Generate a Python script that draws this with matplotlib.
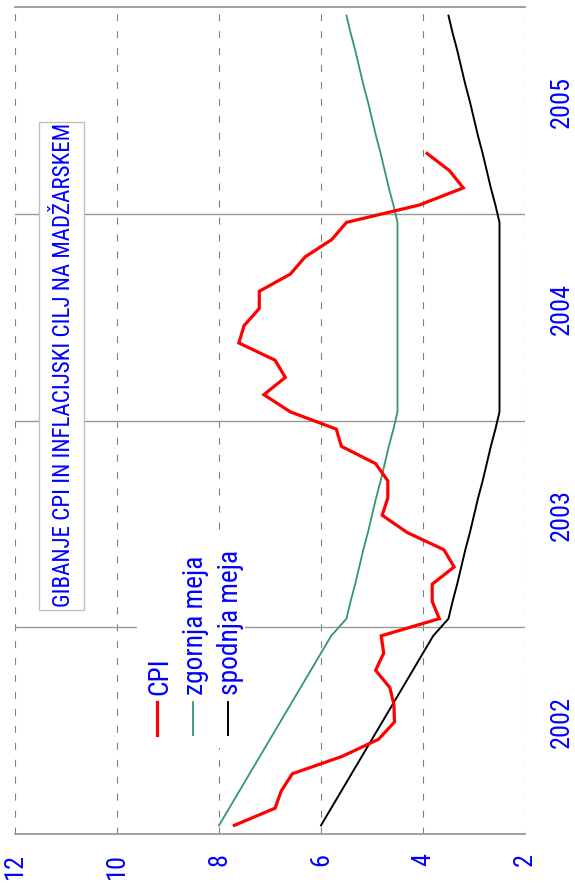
import matplotlib
matplotlib.use("Agg")
import matplotlib.pyplot as plt
from matplotlib.lines import Line2D
from matplotlib.patches import Rectangle

# monthly data, Jan 2002 onwards
cpi = [7.70, 6.90, 6.78, 6.56, 5.59, 4.87, 4.56, 4.57, 4.65, 4.93, 4.77, 4.82,
       3.68, 3.82, 3.82, 3.39, 3.59, 4.31, 4.80, 4.69, 4.69, 4.93, 5.60, 5.70,
       6.60, 7.12, 6.70, 6.90, 7.61, 7.51, 7.21, 7.21, 6.60, 6.31, 5.79, 5.50,
       4.08, 3.21, 3.48, 3.92]
zgornja = [8.0, 7.8, 7.6, 7.4, 7.2, 7.0, 6.8, 6.6, 6.4, 6.2, 6.0, 5.8,
           5.5, 5.42, 5.33, 5.25, 5.17, 5.08, 5.0, 4.92, 4.83, 4.75, 4.67, 4.58,
           4.5, 4.5, 4.5, 4.5, 4.5, 4.5, 4.5, 4.5, 4.5, 4.5, 4.5, 4.5,
           4.58, 4.67, 4.75, 4.83, 4.92, 5.0, 5.08, 5.17, 5.25, 5.33, 5.42, 5.5]
spodnja = [6.0, 5.8, 5.6, 5.4, 5.2, 5.0, 4.8, 4.6, 4.4, 4.2, 4.0, 3.8,
           3.5, 3.42, 3.33, 3.25, 3.17, 3.08, 3.0, 2.92, 2.83, 2.75, 2.67, 2.58,
           2.5, 2.5, 2.5, 2.5, 2.5, 2.5, 2.5, 2.5, 2.5, 2.5, 2.5, 2.5,
           2.58, 2.67, 2.75, 2.83, 2.92, 3.0, 3.08, 3.17, 3.25, 3.33, 3.42, 3.5]
years = ["2002", "2003", "2004", "2005"]
value_ticks = [12, 10, 8, 6, 4, 2]
naslov = "GIBANJE CPI IN INFLACIJSKI CILJ NA MADŽARSKEM"
legenda = ["CPI", "zgornja meja", "spodnja meja"]

BLUE = "#0000ff"
RED = "#ff0000"
GREEN = "#339966"
GRID = "#808080"

plt.rcParams["font.family"] = ["Roboto Condensed", "DejaVu Sans"]
plt.rcParams["lines.scale_dashes"] = False

W, H = 575, 884
fig = plt.figure(figsize=(W / 100, H / 100), dpi=100)
renderer = fig.canvas.get_renderer()


def fx(px):
    return px / W


def fy(py):
    return 1 - py / H


def fit_size(s, length_px, base=20.0):
    # font size that makes the upright-rotated string span length_px
    t = fig.text(0, 0, s, rotation=90, fontsize=base)
    h = t.get_window_extent(renderer).height
    t.remove()
    return base * length_px / h


ax = fig.add_axes([fx(15), fy(834), fx(510), 827 / H])
ax.set_xlim(12, 2)
ax.set_ylim(0, 48)

# chart is laid out sideways: values across, months upward
t_cpi = [m + 0.5 for m in range(len(cpi))]
t_band = [m + 0.5 for m in range(len(zgornja))]
ax.plot(zgornja, t_band, color=GREEN, lw=1.3, zorder=3)
ax.plot(spodnja, t_band, color="black", lw=1.4, zorder=3)
ax.plot(cpi, t_cpi, color=RED, lw=2.3, zorder=4, solid_joinstyle="miter")

tick_fs = fit_size("2005", 52)
ax.set_xticks(value_ticks)
ax.set_xticklabels([str(v) for v in value_ticks], rotation=90, color=BLUE, fontsize=tick_fs)
ax.tick_params(axis="x", length=0, pad=13.5)

ax.yaxis.tick_right()
ax.set_yticks([12 * i + 6.5 for i in range(len(years))])
ax.set_yticklabels(years, rotation=90, color=BLUE, fontsize=tick_fs)
for lbl in ax.get_yticklabels():
    lbl.set_va("center")
ax.tick_params(axis="y", length=0, pad=18)

ax.grid(axis="x", color=GRID, lw=0.8, ls=(0, (5, 7.2)), zorder=1)
ax.set_axisbelow(True)
for b in [12, 24, 36]:
    ax.axhline(b, color="#999999", lw=1.0, zorder=2)
for side in ["left", "right"]:
    ax.spines[side].set_visible(False)
for side in ["top", "bottom"]:
    ax.spines[side].set_color("#999999")
    ax.spines[side].set_linewidth(1.3)

# title box
fig.add_artist(Rectangle((fx(39), fy(610)), fx(45), 488 / H, transform=fig.transFigure,
                         facecolor="white", edgecolor="#c0c0c0", lw=1.0))
fig.text(fx(64), fy(365), naslov, rotation=90, ha="center", va="center",
         color=BLUE, fontsize=fit_size(naslov, 484))

# legend
leg_fs = fit_size(legenda[2], 145)
fig.add_artist(Rectangle((fx(137), fy(748)), fx(108), 218 / H, transform=fig.transFigure,
                         facecolor="white", edgecolor="none"))
for x, barva, lw, besedilo in zip([157, 193, 228], [RED, GREEN, "black"], [2.3, 1.3, 1.4], legenda):
    fig.add_artist(Line2D([fx(x), fx(x)], [fy(702), fy(735)], transform=fig.transFigure,
                          color=barva, lw=lw))
    fig.text(fx(x + 10), fy(695), besedilo, rotation=90, rotation_mode="anchor",
             ha="left", va="baseline", color=BLUE, fontsize=leg_fs)

fig.savefig("out.png", dpi=100)
